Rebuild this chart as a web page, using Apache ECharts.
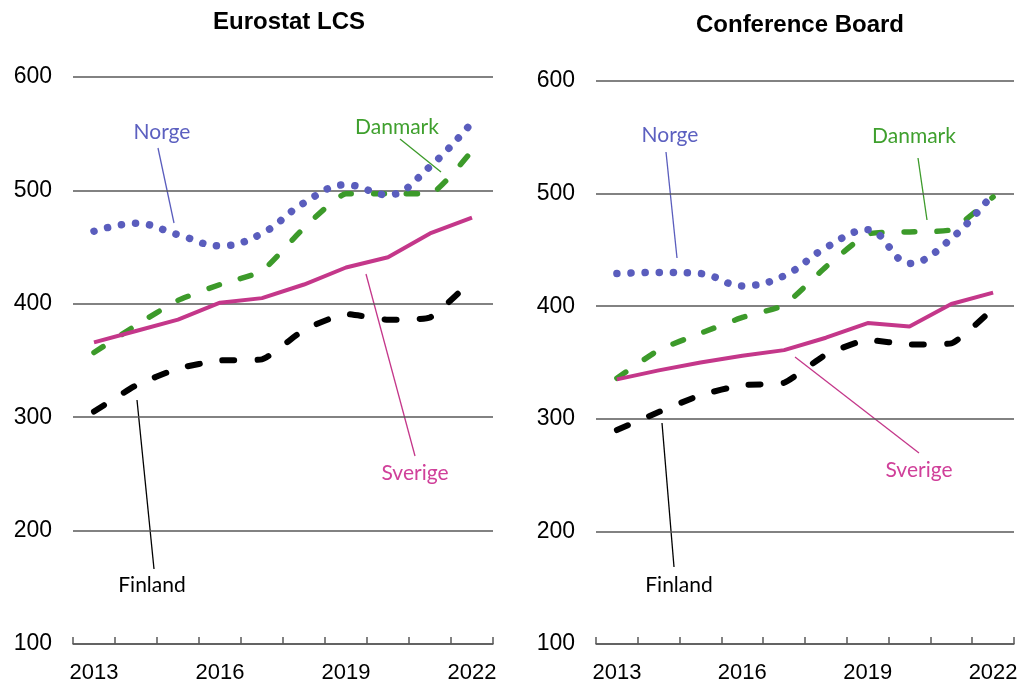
<!DOCTYPE html>
<html>
<head>
<meta charset="utf-8">
<script src="https://cdn.jsdelivr.net/npm/echarts@6/dist/echarts.min.js"></script>
<style>
html,body{margin:0;padding:0;background:#fff;}
#chart{width:1021px;height:684px;}
</style>
</head>
<body>
<div id="chart"></div>
<script>
// ---- data ----
const years = ['2013','2014','2015','2016','2017','2018','2019','2020','2021','2022'];
const yTicks = [100, 200, 300, 400, 500, 600];
const titles = ['Eurostat LCS', 'Conference Board'];

// Eurostat LCS
const norgeLCS   = [464, 471, 461, 451, 462, 489, 505, 496, 521, 560];
const danmarkLCS = [357, 381, 403, 417, 429, 467, 497, 497, 497, 535];
const sverigeLCS = [366, 376, 386, 401, 405, 417, 432, 441, 462, 476];
const finlandLCS = [305, 328, 343, 350, 351, 377, 391, 386, 388, 421];

// Conference Board
const norgeCB   = [429, 430, 429, 418, 427, 452, 468, 438, 460, 500];
const danmarkCB = [336, 361, 376, 390, 401, 435, 464, 466, 468, 497];
const sverigeCB = [335, 343, 350, 356, 361, 372, 385, 382, 402, 412];
const finlandCB = [290, 306, 321, 330, 332, 357, 370, 366, 367, 398];

// ---- styles ----
const C = {
  norge: '#5a5dbd', danmark: '#3c9a2a', sverige: '#c4378a', finland: '#000000',
  norgeTxt: '#5c60c0', danmarkTxt: '#3fa02e', sverigeTxt: '#d0409a', finlandTxt: '#000000',
  grid: '#595959'
};
const labelFont = 'Lato, "Open Sans", sans-serif';

const chart = echarts.init(document.getElementById('chart'));

function xAxis(gi) {
  return {
    type: 'category', gridIndex: gi, data: years, boundaryGap: true,
    axisLine: { show: true, lineStyle: { color: C.grid, width: 1.5 } },
    axisTick: { show: true, inside: true, length: 7, interval: 0, lineStyle: { color: C.grid, width: 1.5 } },
    axisLabel: { interval: 2, color: '#000', fontSize: 22, fontFamily: 'Liberation Sans, Arial, sans-serif', margin: 18 },
    splitLine: { show: false }
  };
}
function yAxis(gi) {
  return {
    type: 'value', gridIndex: gi, min: yTicks[0], max: yTicks[yTicks.length - 1], interval: 100,
    axisLine: { show: false }, axisTick: { show: false },
    axisLabel: { color: '#000', fontSize: 23, fontFamily: 'Liberation Sans, Arial, sans-serif', margin: 21 },
    splitLine: { show: true, lineStyle: { color: C.grid, width: 1.5 } }
  };
}
function ser(gi, data, kind) {
  const base = { type: 'line', xAxisIndex: gi, yAxisIndex: gi, data: data, symbol: 'none', silent: true, animation: false };
  if (kind === 'norge') return Object.assign(base, { smooth: 0.4, z: 5,
    lineStyle: { color: C.norge, width: 7.5, type: [0.1, 14], cap: 'round' } });
  if (kind === 'danmark') return Object.assign(base, { smooth: 0.15, z: 3,
    lineStyle: { color: C.danmark, width: 5.5, type: [11, 22], cap: 'round' } });
  if (kind === 'sverige') return Object.assign(base, { smooth: false, z: 4,
    lineStyle: { color: C.sverige, width: 4 } });
  return Object.assign(base, { smooth: 0.15, z: 2,
    lineStyle: { color: C.finland, width: 6, type: [12, 23], cap: 'round' } });
}

function txt(x, y, s, color) {
  return { type: 'text', x: x, y: y, silent: true,
    style: { text: s, fill: color, font: '21px ' + labelFont, textAlign: 'center', textVerticalAlign: 'middle' } };
}
function ln(x1, y1, x2, y2, color) {
  return { type: 'line', silent: true, shape: { x1: x1, y1: y1, x2: x2, y2: y2 }, style: { stroke: color, lineWidth: 1.3 } };
}

const option = {
  backgroundColor: '#fff',
  animation: false,
  title: [
    { text: titles[0], left: 284, top: 17, textAlign: 'center', textVerticalAlign: 'middle',
      textStyle: { fontSize: 24, fontWeight: 'bold', color: '#000', fontFamily: 'Liberation Sans, Arial, sans-serif' } },
    { text: titles[1], left: 795, top: 20, textAlign: 'center', textVerticalAlign: 'middle',
      textStyle: { fontSize: 24, fontWeight: 'bold', color: '#000', fontFamily: 'Liberation Sans, Arial, sans-serif' } }
  ],
  grid: [
    { left: 73, top: 77, width: 420, height: 567 },
    { left: 596, top: 81, width: 418, height: 563 }
  ],
  xAxis: [xAxis(0), xAxis(1)],
  yAxis: [yAxis(0), yAxis(1)],
  series: [
    ser(0, finlandLCS, 'finland'), ser(0, danmarkLCS, 'danmark'), ser(0, sverigeLCS, 'sverige'), ser(0, norgeLCS, 'norge'),
    ser(1, finlandCB, 'finland'), ser(1, danmarkCB, 'danmark'), ser(1, sverigeCB, 'sverige'), ser(1, norgeCB, 'norge')
  ],
  graphic: [
    // left panel annotations
    ln(158, 148, 174, 223, C.norge), txt(162, 132, 'Norge', C.norgeTxt),
    ln(400, 139, 441, 172, C.danmark), txt(397, 127, 'Danmark', C.danmarkTxt),
    ln(366, 274, 415, 456, C.sverige), txt(415, 473, 'Sverige', C.sverigeTxt),
    ln(137, 400, 154, 569, C.finland), txt(152, 585, 'Finland', C.finlandTxt),
    // right panel annotations
    ln(666, 152, 677, 258, C.norge), txt(670, 135, 'Norge', C.norgeTxt),
    ln(918, 158, 927, 220, C.danmark), txt(914, 136, 'Danmark', C.danmarkTxt),
    ln(795, 357, 919, 453, C.sverige), txt(919, 470, 'Sverige', C.sverigeTxt),
    ln(662, 423, 674, 567, C.finland), txt(679, 585, 'Finland', C.finlandTxt)
  ]
};
chart.setOption(option);
</script>
</body>
</html>
